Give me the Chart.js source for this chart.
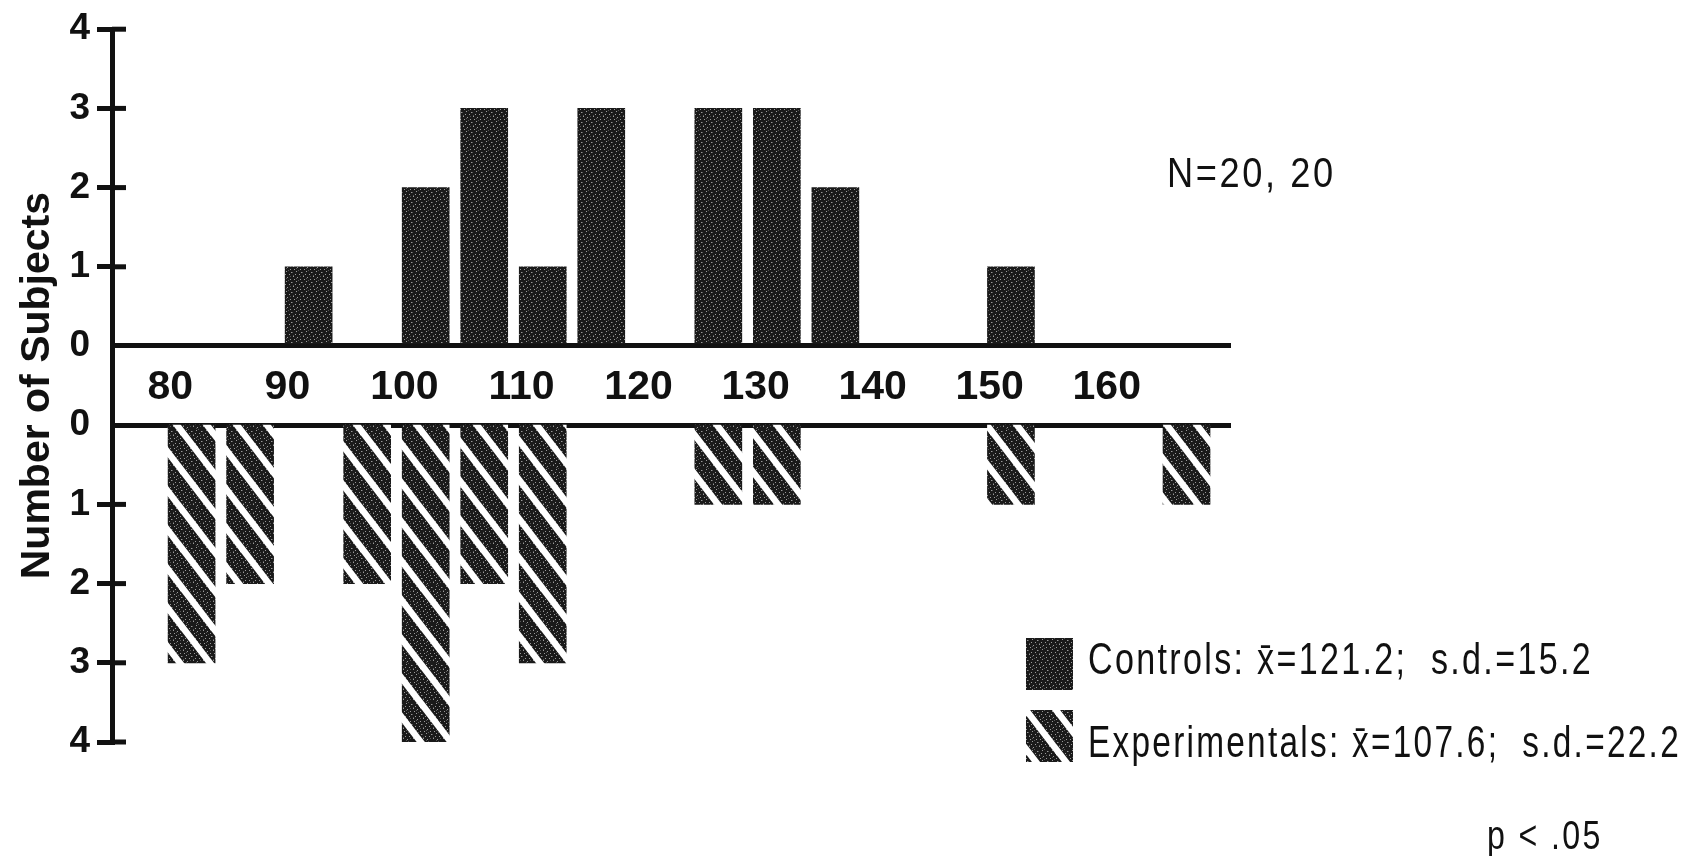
<!DOCTYPE html>
<html>
<head>
<meta charset="utf-8">
<title>Number of Subjects - Controls vs Experimentals</title>
<script src="https://cdn.jsdelivr.net/npm/chart.js@4.4.0/dist/chart.umd.min.js"></script>
<style>
  html, body { margin: 0; background: #fff; }
  #wrap { position: relative; width: 1690px; height: 856px; }
  #chart { position: absolute; left: 0; top: 0; }
  .note {
    position: absolute;
    font-family: 'Liberation Sans', Arial, sans-serif;
    color: #111;
    white-space: nowrap;
    line-height: 1;
    letter-spacing: 3px;
    transform-origin: left top;
  }
  .swatch { position: absolute; }
</style>
</head>
<body>
<div id="wrap">
  <canvas id="chart" width="1690" height="856"></canvas>
  <div class="note" data-w="169" style="left:1167px; top:152px; font-size:42px;">N=20, 20</div>
  <canvas class="swatch" id="swCtl" width="47" height="52" style="left:1026px; top:638px;"></canvas>
  <div class="note" data-w="505" style="left:1088px; top:637px; font-size:44px;">Controls: x&#772;=121.2;&nbsp; s.d.=15.2</div>
  <canvas class="swatch" id="swExp" width="47" height="52" style="left:1026px; top:710px;"></canvas>
  <div class="note" data-w="593" style="left:1088px; top:720px; font-size:44px;">Experimentals: x&#772;=107.6;&nbsp; s.d.=22.2</div>
  <div class="note" data-w="116" style="left:1487px; top:815px; font-size:41px;">p &lt; .05</div>
</div>
<script>
// bins of 5 points, lower bound of each bin
const binStarts = [80, 85, 90, 95, 100, 105, 110, 115, 120, 125, 130, 135, 140, 145, 150, 155, 160, 165];
const controls = [0, 0, 1, 0, 2, 3, 1, 3, 0, 3, 3, 2, 0, 0, 1, 0, 0, 0];
const experimentals = [3, 2, 0, 2, 4, 2, 3, 0, 0, 1, 1, 0, 0, 0, 1, 0, 0, 1];
const xTicks = [80, 90, 100, 110, 120, 130, 140, 150, 160];
const BIN = 5;

// gap between the two halves, in y units (the band with the x labels)
const BAND = 1;
const INK = '#111';
const FONT = "'Liberation Sans', Arial, sans-serif";

// the typed notes are condensed: squeeze each one to its width
document.querySelectorAll('.note[data-w]').forEach(el => {
  el.style.transform = `scaleX(${el.dataset.w / el.offsetWidth})`;
});

// dark stippled fill
function stippleTile() {
  const c = document.createElement('canvas');
  c.width = 10; c.height = 10;
  const g = c.getContext('2d');
  g.fillStyle = '#1a1a1a';
  g.fillRect(0, 0, 10, 10);
  g.fillStyle = '#9a9a9a';
  [[1, 2], [6, 1], [9, 4], [3, 6], [7, 7], [0, 9], [5, 4], [4, 9]].forEach(([x, y]) => g.fillRect(x, y, 1, 1));
  g.fillStyle = '#555';
  [[2, 2], [8, 0], [3, 5], [6, 8], [0, 6]].forEach(([x, y]) => g.fillRect(x, y, 1, 1));
  return c;
}

// stipple with white diagonal stripes
function hatchTile() {
  const c = document.createElement('canvas');
  c.width = 30; c.height = 39;
  const g = c.getContext('2d');
  g.fillStyle = g.createPattern(stippleTile(), 'repeat');
  g.fillRect(0, 0, 30, 39);
  g.strokeStyle = '#fff';
  g.lineWidth = 6.5;
  [-39, 0, 39].forEach(c0 => {
    g.beginPath();
    g.moveTo(-30, c0 - 39);
    g.lineTo(60, c0 + 78);
    g.stroke();
  });
  return c;
}

const ctx = document.getElementById('chart').getContext('2d');
const stipple = ctx.createPattern(stippleTile(), 'repeat');
const hatch = ctx.createPattern(hatchTile(), 'repeat');

// legend swatches
[['swCtl', stippleTile()], ['swExp', hatchTile()]].forEach(([id, tile]) => {
  const sw = document.getElementById(id).getContext('2d');
  sw.fillStyle = sw.createPattern(tile, 'repeat');
  sw.fillRect(0, 0, 47, 52);
});

// tick marks cross the axis: draw the inner half
const innerTicks = {
  id: 'innerTicks',
  afterDraw(chart) {
    const y = chart.scales.y;
    const left = chart.chartArea.left;
    const c = chart.ctx;
    c.save();
    c.strokeStyle = INK;
    c.lineWidth = 5;
    y.ticks.forEach(t => {
      if (t.value === 0 || t.value === -BAND) return;
      const py = y.getPixelForValue(t.value);
      c.beginPath();
      c.moveTo(left, py);
      c.lineTo(left + 14, py);
      c.stroke();
    });
    c.restore();
  }
};

const isBase = v => v === 0 || v === -BAND;

new Chart(ctx, {
  type: 'bar',
  data: {
    datasets: [
      {
        label: 'Controls',
        data: binStarts.map((b, i) => ({ x: b + BIN / 2, y: controls[i] || null })),
        backgroundColor: stipple,
        borderWidth: 0,
        barThickness: 47,
        grouped: false
      },
      {
        label: 'Experimentals',
        data: binStarts.map((b, i) => ({
          x: b + BIN / 2,
          y: experimentals[i] ? [-BAND, -BAND - experimentals[i]] : null
        })),
        backgroundColor: hatch,
        borderWidth: 0,
        barThickness: 47,
        grouped: false
      }
    ]
  },
  options: {
    responsive: false,
    animation: false,
    devicePixelRatio: 1,
    layout: { padding: { left: 0, top: 24, right: 459, bottom: 114 } },
    plugins: {
      legend: { display: false },
      tooltip: { enabled: false }
    },
    scales: {
      x: {
        type: 'linear',
        offset: false,
        min: 75.7,
        max: 171.3,
        position: { y: 0 },
        grid: { display: false },
        border: { display: false },
        afterBuildTicks: s => { s.ticks = xTicks.map(v => ({ value: v })); },
        ticks: {
          autoSkip: false,
          maxRotation: 0,
          padding: 9,
          labelOffset: 8,
          color: INK,
          font: { family: FONT, size: 41, weight: 'bold' }
        }
      },
      y: {
        min: -BAND - 4,
        max: 4,
        afterFit: s => { s.width = 112; },
        ticks: {
          stepSize: 1,
          padding: 7,
          color: INK,
          font: { family: FONT, size: 37, weight: 'bold' },
          callback: v => (v >= 0 ? v : -v - BAND)
        },
        grid: {
          lineWidth: 5,
          tickLength: 15,
          color: c => (isBase(c.tick.value) ? INK : 'transparent'),
          tickColor: c => (isBase(c.tick.value) ? 'transparent' : INK)
        },
        border: { color: INK, width: 5 },
        title: {
          display: true,
          text: 'Number of Subjects',
          color: INK,
          font: { family: FONT, weight: 'bold', size: 41 },
          padding: { top: 13, bottom: 0 }
        }
      }
    }
  },
  plugins: [innerTicks]
});
</script>
</body>
</html>
